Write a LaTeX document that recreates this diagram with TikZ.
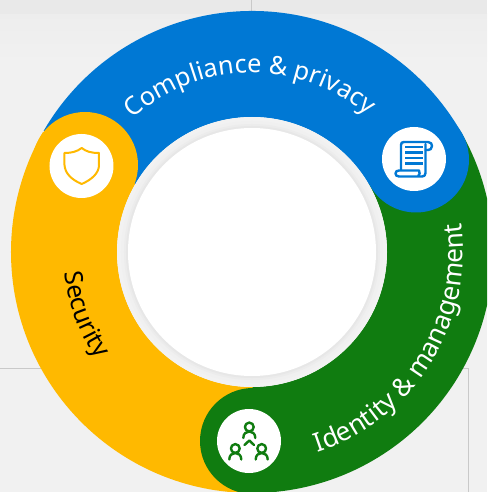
\documentclass[tikz,border=0pt]{standalone}
\usepackage{fontspec}
\setmainfont{Noto Sans}
\usetikzlibrary{decorations.text}
\definecolor{msblue}{HTML}{0078D4}
\definecolor{msgreen}{HTML}{107C10}
\definecolor{msyellow}{HTML}{FFB900}
\definecolor{bgpage}{HTML}{F1F1F1}
\definecolor{bgstrip}{HTML}{E9E9E9}
\definecolor{frameline}{HTML}{C9C9C9}
\newcommand{\ringfont}[1]{\fontsize{#1}{#1}\selectfont}
\tikzset{
  ringband/.style={line width=106pt},
  endcap/.style={circle,inner sep=0pt,minimum size=106pt},
  iconbadge/.style={circle,fill=white,inner sep=0pt,minimum size=64pt},
  frameedge/.style={draw=frameline,line width=0.9pt},
  iconline/.style={line width=2.4pt,line join=round,line cap=round},
  ringtext/.style={decorate,decoration={text along path,text align=center,text={#1}}}
}
\begin{document}
\begin{tikzpicture}[x=1pt,y=1pt]
\useasboundingbox (-252,-240) rectangle (235,252);
\clip (-252,-240) rectangle (235,252);
% page
\fill[bgpage] (-252,-240) rectangle (235,252);
\shade[top color=white!93!black,bottom color=white!94.5!black] (-252,238) rectangle (235,190);
\fill[bgstrip] (-252,238) rectangle (235,252);
\draw[frameedge] (-252,-116) -- (-205,-116);
\draw[frameedge] (205,-116) -- (216,-116) -- (216,-240);
\draw[frameedge] (-1,252) -- (-1,240);
% ring
\draw[ringband,msblue] (150:188) arc[start angle=150,end angle=30,radius=188pt];
\draw[ringband,msgreen] (30:188) arc[start angle=30,end angle=-90,radius=188pt];
\draw[ringband,msyellow] (-90:188) arc[start angle=-90,end angle=-210,radius=188pt];
\node[endcap,fill=msyellow] (capsec) at (-167,87) {};
\node[endcap,fill=msblue] (capcomp) at (164,92.5) {};
\node[endcap,fill=msgreen] (capid) at (1,-189) {};
% hub
\fill[white!95!black] (0,0) circle[radius=135pt];
\fill[white!94!black] (0,0) circle[radius=131pt];
\fill[white!92.5!black] (0,0) circle[radius=128pt];
\fill[white!90.5!black] (0,0) circle[radius=126pt];
\node[circle,fill=white,inner sep=0pt,minimum size=248pt] (hub) at (0,0) {};
% labels
\path[ringtext={|\ringfont{25.3}\color{white}|Compliance {\&} privacy}]
  (137:179) arc[start angle=137,end angle=44.5,radius=179pt];
\path[ringtext={|\ringfont{26.2}\color{white}|Identity {\&} management}]
  (-78:211) arc[start angle=-78,end angle=14,radius=211pt];
\path[ringtext={|\ringfont{25}\color{black}|Security}]
  (178:188.5) arc[start angle=178,end angle=223,radius=188.5pt];
% badges
\node[iconbadge] (secbadge) at (-170.5,86) {};
\node[iconbadge] (compbadge) at (162,93) {};
\node[iconbadge] (idbadge) at (-3,-189) {};
% icons, in the reference's pixel coordinates
\begin{scope}[shift={(-252,252)},y=-1pt]
  % shield
  \draw[iconline,msyellow,line width=2pt]
    (64.5,153) .. controls (72,153) and (77,151.5) .. (81.7,148)
    .. controls (86,151.5) and (91,153) .. (99,153)
    -- (99,165) .. controls (99,173) and (92,179.5) .. (81.7,184)
    .. controls (71,179.5) and (65,173) .. (64.5,165) -- cycle;
  % scroll
  \begin{scope}[iconline,msblue]
    \draw (401,170) -- (401,145) .. controls (401,143) and (402,142) .. (404,142)
      -- (428,142) .. controls (431,142) and (432,144) .. (432,146)
      .. controls (432,149) and (430,150) .. (428,150) -- (425.5,150) ;
    \draw (425.5,144) -- (425.5,173) .. controls (425.5,175.5) and (424,176.5) .. (422,176.5)
      -- (399,176.5) .. controls (396.5,176.5) and (395.5,175) .. (395.5,173.5)
      .. controls (395.5,171.5) and (397,170.5) .. (399,170.5) -- (419,170.5)
      .. controls (420,172) and (420,175) .. (418,176.5);
    \foreach \ly in {147,152.5,158,163.5}
      \draw[line cap=butt] (405,\ly) -- (423,\ly);
  \end{scope}
  % people
  \begin{scope}[iconline,msgreen]
    \foreach \px/\py in {249.3/427,235.3/448.5,261.7/448.5}{
      \draw (\px,\py) circle[radius=4.4pt];
      \draw (\px-6,\py+11) .. controls (\px-6,\py+6.5) and (\px-3,\py+4.5) .. (\px,\py+4.5)
        .. controls (\px+3,\py+4.5) and (\px+6,\py+6.5) .. (\px+6,\py+11);
    }
    \draw (244.5,445) -- (249.3,440.5) -- (254,445);
  \end{scope}
\end{scope}
\end{tikzpicture}
\end{document}
